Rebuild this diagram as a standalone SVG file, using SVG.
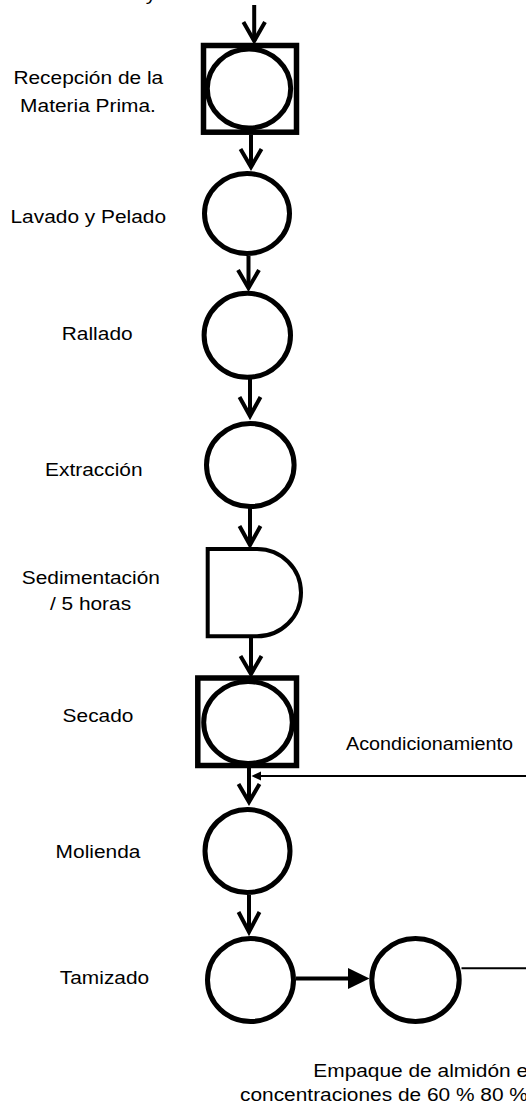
<svg xmlns="http://www.w3.org/2000/svg" width="526" height="1110" viewBox="0 0 526 1110">
<style>
.t{font-family:"Liberation Sans",Arial,sans-serif;font-size:18.5px;fill:#000;text-anchor:middle}
.tl{font-family:"Liberation Sans",Arial,sans-serif;font-size:18.5px;fill:#000;text-anchor:start}
.shape{fill:#fff;stroke:#000;stroke-width:5}
.box{fill:#fff;stroke:#000;stroke-width:5.5}
.d{fill:#fff;stroke:#000;stroke-width:4}
.ln{fill:none;stroke:#000;stroke-width:4}
.thin{fill:none;stroke:#000;stroke-width:2}
.head{fill:none;stroke:#000;stroke-width:4;stroke-linejoin:miter}
.fill{fill:#000;stroke:none}
</style>
<rect width="526" height="1110" fill="#fff"/>
<g id="top-label"><text class="t" transform="translate(151,0) scale(1.13,1)">y</text></g>
<g id="n-recepcion">
<rect class="box" x="203.5" y="45.5" width="93" height="86.7"/>
<ellipse class="shape" cx="249" cy="88.5" rx="41.7" ry="39.5"/>
<text class="t" transform="translate(88.3,84) scale(1.13,1)">Recepción de la</text>
<text class="t" transform="translate(88,111.7) scale(1.13,1)">Materia Prima.</text>
</g>
<g id="n-lavado">
<ellipse class="shape" cx="247" cy="213.5" rx="42.5" ry="40"/>
<text class="t" transform="translate(88.3,222.7) scale(1.13,1)">Lavado y Pelado</text>
</g>
<g id="n-rallado">
<ellipse class="shape" cx="247.3" cy="335.3" rx="43.2" ry="42"/>
<text class="t" transform="translate(97.2,340) scale(1.13,1)">Rallado</text>
</g>
<g id="n-extraccion">
<ellipse class="shape" cx="250.3" cy="465" rx="43.8" ry="41.5"/>
<text class="t" transform="translate(93.8,476) scale(1.13,1)">Extracción</text>
</g>
<g id="n-sedimentacion">
<path class="d" d="M207.7,549 H257 A44,43.65 0 0 1 257,636.3 H207.7 Z"/>
<text class="t" transform="translate(90.8,584) scale(1.13,1)">Sedimentación</text>
<text class="t" transform="translate(90.5,610) scale(1.13,1)">/ 5 horas</text>
</g>
<g id="n-secado">
<rect class="box" x="197.8" y="678" width="98.7" height="87.5"/>
<ellipse class="shape" cx="248" cy="722.5" rx="44.3" ry="41"/>
<text class="t" transform="translate(98,721.5) scale(1.13,1)">Secado</text>
</g>
<g id="n-acondicionamiento">
<text class="t" transform="translate(429.5,750) scale(1.07,1)">Acondicionamiento</text>
</g>
<g id="n-molienda">
<ellipse class="shape" cx="247.5" cy="851" rx="42.5" ry="41.5"/>
<text class="t" transform="translate(98,858) scale(1.13,1)">Molienda</text>
</g>
<g id="n-tamizado">
<ellipse class="shape" cx="250.5" cy="980" rx="43" ry="41.5"/>
<text class="t" transform="translate(104.5,984) scale(1.13,1)">Tamizado</text>
</g>
<g id="n-empaque">
<ellipse class="shape" cx="415.5" cy="980" rx="43.7" ry="41.5"/>
<text class="tl" transform="translate(313.3,1077) scale(1.13,1)">Empaque de almidón e</text>
<text class="tl" transform="translate(240,1101) scale(1.13,1)">concentraciones de 60 % 80 %</text>
</g>
<g id="connectors">
<line class="ln" x1="254.2" y1="5" x2="254.2" y2="41"/>
<polyline class="head" points="243.4,22 254.2,41 265,22"/>
<line class="ln" x1="251" y1="135" x2="251" y2="167"/>
<polyline class="head" points="240.5,149 251,167 261.5,149"/>
<line class="ln" x1="248.5" y1="256" x2="248.5" y2="288"/>
<polyline class="head" points="238,270 248.5,288 259,270"/>
<line class="ln" x1="250" y1="379" x2="250" y2="416"/>
<polyline class="head" points="239.5,397 250,416 260.5,397"/>
<line class="ln" x1="250" y1="508" x2="250" y2="545"/>
<polyline class="head" points="239.5,526 250,545 260.5,526"/>
<line class="ln" x1="251" y1="638" x2="251" y2="674"/>
<polyline class="head" points="240.5,656 251,674 261.5,656"/>
<line class="ln" x1="249" y1="768" x2="249" y2="802"/>
<polyline class="head" points="238.5,784 249,802 259.5,784"/>
<line class="ln" x1="249" y1="895" x2="249" y2="932"/>
<polyline class="head" points="238.5,912 249,932 259.5,912"/>
<line class="ln" x1="296" y1="978.5" x2="350" y2="978.5"/>
<polygon class="fill" points="348,968 369.5,978.5 348,989"/>
<line class="thin" x1="461.5" y1="968.3" x2="526" y2="968.3"/>
<line class="thin" x1="258" y1="776" x2="526" y2="776"/>
<polygon class="fill" points="251.5,776 261,771.5 261,780.5"/>
</g>
</svg>
